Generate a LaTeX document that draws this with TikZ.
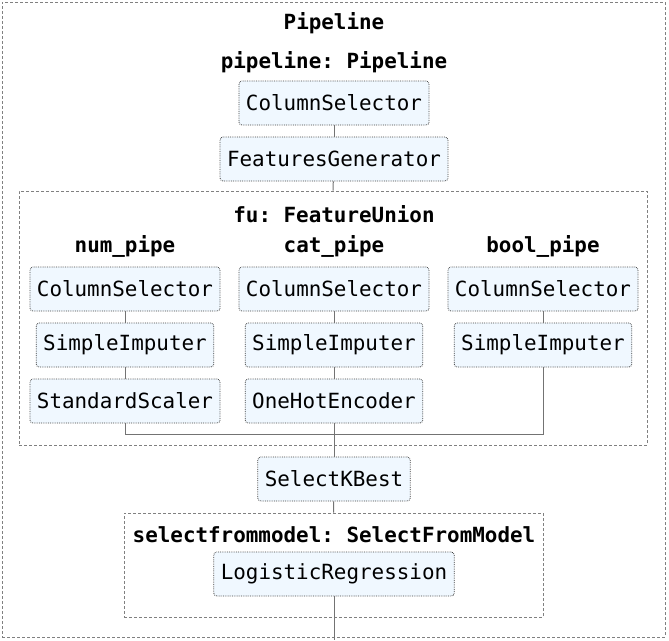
\documentclass[tikz,border=0pt]{standalone}
\usepackage{fontspec}
\setmonofont{DejaVu Sans Mono}
\begin{document}
\begin{tikzpicture}[x=1pt,y=-1pt,
  every node/.style={font=\ttfamily\fontsize{20.9}{25}\selectfont},
  est/.style={draw=black!75,densely dotted,fill={rgb,255:red,240;green,248;blue,255},rounded corners=3pt,inner xsep=7pt,inner ysep=0pt,minimum height=44pt,line width=0.8pt},
  ttl/.style={font=\ttfamily\bfseries\fontsize{20.9}{25}\selectfont,inner sep=0pt},
  cont/.style={draw=black!50,dash pattern=on 3pt off 2pt,line width=0.8pt,inner sep=0pt},
  conn/.style={draw=black!55,line width=1pt}]
\useasboundingbox (0,0) rectangle (669,640);
% containers
\node[cont,minimum width=663pt,minimum height=635pt] (outer) at (333.5,319.5) {};
\node[cont,minimum width=628pt,minimum height=254pt] (fu) at (333,318) {};
\node[cont,minimum width=419pt,minimum height=104pt] (sfm) at (333.5,565) {};
% titles
\node[ttl] (t0) at (334,23.5) {Pipeline};
\node[ttl] (t1) at (334,62.5) {pipeline: Pipeline};
\node[ttl] (t2) at (334,214.5) {fu: FeatureUnion};
\node[ttl] (t3) at (125,246.5) {num\_pipe};
\node[ttl] (t4) at (334,246.5) {cat\_pipe};
\node[ttl] (t5) at (543,246.5) {bool\_pipe};
\node[ttl] (t6) at (334,534.5) {selectfrommodel: SelectFromModel};
% estimators
\node[est] (cs) at (334,103) {ColumnSelector};
\node[est] (fg) at (334,159) {FeaturesGenerator};
\node[est] (ncs) at (125,289) {ColumnSelector};
\node[est] (ccs) at (334,289) {ColumnSelector};
\node[est] (bcs) at (543,289) {ColumnSelector};
\node[est] (nsi) at (125,345) {SimpleImputer};
\node[est] (csi) at (334,345) {SimpleImputer};
\node[est] (bsi) at (543,345) {SimpleImputer};
\node[est] (nss) at (125,401) {StandardScaler};
\node[est] (coh) at (334,401) {OneHotEncoder};
\node[est] (skb) at (334,479) {SelectKBest};
\node[est] (lr) at (334,574) {LogisticRegression};
\coordinate (J) at (334,434);
\coordinate (end) at (334,640);
% connectors
\draw[conn] (cs) -- (fg);
\draw[conn] (fg) -- (fu.north);
\draw[conn] (ncs) -- (nsi);
\draw[conn] (nsi) -- (nss);
\draw[conn] (ccs) -- (csi);
\draw[conn] (csi) -- (coh);
\draw[conn] (bcs) -- (bsi);
\draw[conn] (nss.south) |- (J);
\draw[conn] (bsi.south) |- (J);
\draw[conn] (coh.south) -- (J);
\draw[conn] (J) -- (skb.north);
\draw[conn] (skb) -- (sfm.north);
\draw[conn] (lr.south) -- (end);
\end{tikzpicture}
\end{document}
